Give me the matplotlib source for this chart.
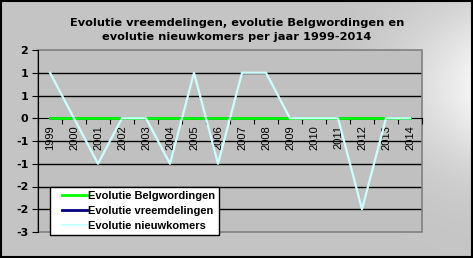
import numpy as np
import matplotlib
matplotlib.use('Agg')
import matplotlib.pyplot as plt
from matplotlib.patches import Rectangle
from matplotlib.legend_handler import HandlerLine2D

# --- Data ---
jaren = ['1999', '2000', '2001', '2002', '2003', '2004', '2005', '2006',
         '2007', '2008', '2009', '2010', '2011', '2012', '2013', '2014']
evolutie_belgwordingen = [0, 0, 0, 0, 0, 0, 0, 0, 0, 0, 0, 0, 0, 0, 0, 0]
evolutie_vreemdelingen = [0, 0, 0, 0, 0, 0, 0, 0, 0, 0, 0, 0, 0, 0, 0, 0]
evolutie_nieuwkomers = [1, 0, -1, 0, 0, -1, 1, -1, 1, 1, 0, 0, 0, -2, 0, 0]
y_ticks = [1.5, 1, 0.5, 0, -0.5, -1, -1.5, -2, -2.5]
y_tick_labels = ['2', '1', '1', '0', '-1', '-1', '-2', '-2', '-3']

TITLE = ('Evolutie vreemdelingen, evolutie Belgwordingen en\n'
         'evolutie nieuwkomers per jaar 1999-2014')


class ShiftedLine(HandlerLine2D):
    # leave some empty room left of the legend line, like Excel does
    def create_artists(self, legend, orig_handle, xdescent, ydescent,
                       width, height, fontsize, trans):
        shift = 0.75 * fontsize
        return super().create_artists(legend, orig_handle, xdescent - shift, ydescent,
                                      width - shift, height, fontsize, trans)


fig = plt.figure(figsize=(4.73, 2.58), dpi=100)

# background gradient (Excel-like)
bg = fig.add_axes([0, 0, 1, 1], zorder=-10)
xx, yy = np.meshgrid(np.linspace(0, 1, 240), np.linspace(0, 1, 130))
shade = 0.77 + 0.19 * np.clip((xx - 0.7) / 0.3, 0, 1) ** 1.5 * np.exp(-((yy - 0.33) / 0.32) ** 2)
bg.imshow(np.dstack([shade] * 3), aspect='auto', extent=(0, 1, 0, 1), origin='upper')
bg.set_axis_off()
fig.patches.append(Rectangle((0.002, 0.004), 0.996, 0.992, transform=fig.transFigure,
                             fill=False, edgecolor='black', linewidth=1.5))

ax = fig.add_axes([38 / 473, 1 - 232 / 258, 384 / 473, 182 / 258])
ax.set_facecolor('#C0C0C0')
x = np.arange(len(jaren))

ax.plot(x, evolutie_vreemdelingen, color='#000080', linewidth=2, label='Evolutie vreemdelingen', zorder=3)
ax.plot(x, evolutie_belgwordingen, color='#00FF00', linewidth=2, label='Evolutie Belgwordingen', zorder=4)
ax.plot(x, evolutie_nieuwkomers, color='#CCFFFF', linewidth=1.6, label='Evolutie nieuwkomers', zorder=5)

ax.set_xlim(-0.5, len(jaren) - 0.5)
ax.set_ylim(-2.5, 1.5)

# gridlines
for v in y_ticks:
    if v not in (1.5, -2.5, 0):
        ax.axhline(v, color='black', linewidth=1, zorder=1)

# plot area border
ax.add_patch(Rectangle((0, 0), 1, 1, transform=ax.transAxes, fill=False,
                       edgecolor='#808080', linewidth=1.2, zorder=1.5, clip_on=False))

# y axis
ax.set_yticks(y_ticks)
ax.set_yticklabels(y_tick_labels, fontsize=8, fontweight='bold')
ax.tick_params(axis='y', length=4, color='black', pad=3)

# x axis crossing at zero
ax.spines['bottom'].set_position(('data', 0))
ax.spines['bottom'].set_color('black')
ax.spines['bottom'].set_zorder(2)
ax.spines['left'].set_color('black')
ax.spines['left'].set_zorder(2)
ax.spines['top'].set_visible(False)
ax.spines['right'].set_visible(False)
ax.set_xticks(np.arange(-0.5, len(jaren), 1.0))
ax.set_xticklabels([])
ax.tick_params(axis='x', which='major', length=4, direction='out', color='black')
ax.set_xticks(x, minor=True)
ax.set_xticklabels(jaren, minor=True, rotation=90, fontsize=8, family='Liberation Sans')
ax.tick_params(axis='x', which='minor', length=0, pad=5)

fig.text(237 / 473, 1 - 30 / 258, TITLE, ha='center', va='center', fontsize=8.2,
         fontweight='bold', linespacing=1.4)

handles, labels = ax.get_legend_handles_labels()
order = [1, 0, 2]
leg = ax.legend([handles[i] for i in order], [labels[i] for i in order],
                loc='lower left', bbox_to_anchor=(50 / 473, 1 - 235 / 258),
                bbox_transform=fig.transFigure, fancybox=False, framealpha=1,
                edgecolor='black', borderaxespad=0, borderpad=0.35,
                handlelength=3.0, handletextpad=0.1, labelspacing=0.45,
                handler_map={matplotlib.lines.Line2D: ShiftedLine()},
                prop={'family': 'Liberation Sans', 'weight': 'bold', 'size': 8})
leg.get_frame().set_linewidth(1)
leg.set_zorder(10)

fig.savefig('out.png', dpi=100)
